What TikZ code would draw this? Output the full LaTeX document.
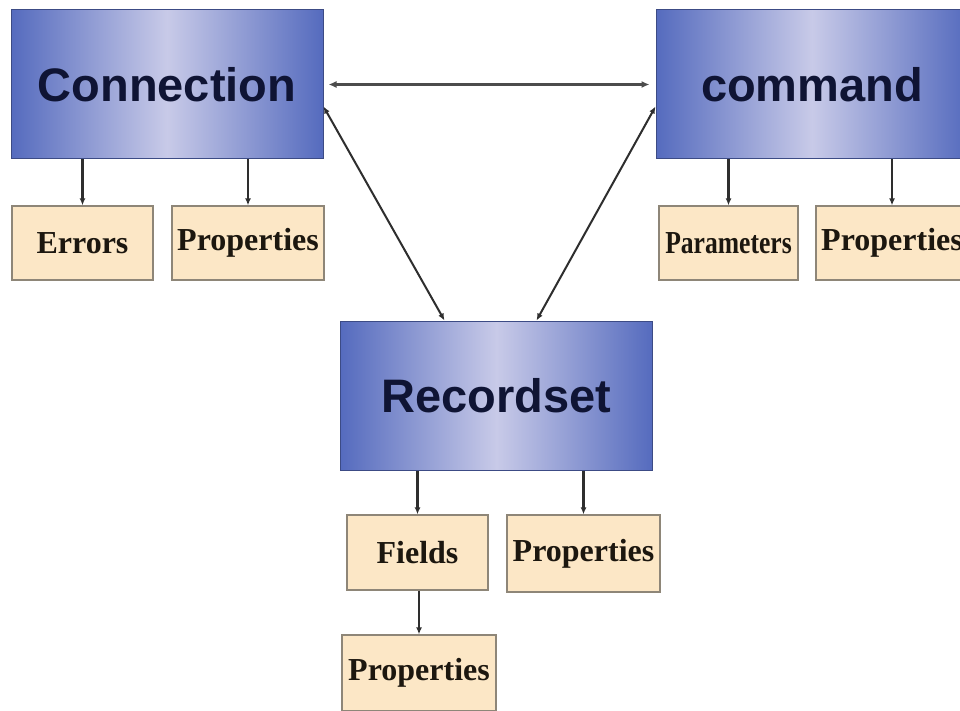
\documentclass[tikz,border=0pt]{standalone}
\usepackage{fontspec}
\setmainfont{Liberation Serif}
\newfontfamily\bigsans{Liberation Sans}
\usetikzlibrary{arrows.meta,calc}
\definecolor{boxblue}{HTML}{556BBE}
\definecolor{boxlight}{HTML}{C8CAE8}
\definecolor{peach}{HTML}{FCE7C6}
\definecolor{peachline}{HTML}{8E8678}
\definecolor{bigtext}{HTML}{0F1434}
\definecolor{smalltext}{HTML}{1C170F}
\definecolor{arrowgray}{HTML}{2E2E2E}
\tikzset{
  bigbox/.style={rectangle, draw=boxblue!70!black, line width=1pt, left color=boxblue, right color=boxblue, middle color=boxlight, minimum width=312pt, minimum height=149pt, inner sep=0pt, font=\bigsans\fontsize{47}{50}\selectfont\bfseries, text=bigtext},
  smallbox/.style={rectangle, draw=peachline, line width=1.3pt, fill=peach, minimum height=74pt, inner sep=0pt, font=\fontsize{32}{34}\selectfont\bfseries, text=smalltext},
  conn/.style={draw=arrowgray, line width=2.2pt, -{Latex[length=7pt,width=6pt]}},
  dconn/.style={draw=arrowgray, line width=2pt, {Latex[length=7pt,width=6pt]}-{Latex[length=7pt,width=6pt]}},
  hconn/.style={draw=black!70, line width=3pt, {Latex[length=8pt,width=7pt]}-{Latex[length=8pt,width=7pt]}}
}
\begin{document}
\begin{tikzpicture}[x=1pt,y=-1pt]
\useasboundingbox[fill=white] (0,0) rectangle (960,711);
% big boxes
\node[bigbox] (connection) at (167,84.5) {Connection};
\node[bigbox] (command) at (812,84.5) {command};
\node[bigbox] (recordset) at (496.5,395.5) {Recordset};
% small boxes
\node[smallbox, minimum width=141pt] (errors) at (82.5,243) {Errors};
\node[smallbox, minimum width=152pt] (cprops) at (248,243) {Properties};
\node[smallbox, minimum width=139pt] (params) at (728.5,243) {\scalebox{0.8}[1]{Parameters}};
\node[smallbox, minimum width=152pt] (mprops) at (892,243) {Properties};
\node[smallbox, minimum width=141pt, minimum height=75pt] (fields) at (417.5,552.5) {Fields};
\node[smallbox, minimum width=153pt, minimum height=77pt] (rprops) at (583.5,553.5) {Properties};
\node[smallbox, minimum width=154pt, minimum height=76pt] (fprops) at (419,673) {Properties};
% connectors
\draw[conn] (connection.south -| errors.north) -- (errors.north);
\draw[conn] (connection.south -| cprops.north) -- (cprops.north);
\draw[conn] (command.south -| params.north) -- (params.north);
\draw[conn] (command.south -| mprops.north) -- (mprops.north);
\draw[conn] (recordset.south -| fields.north) -- (fields.north);
\draw[conn] (recordset.south -| rprops.north) -- (rprops.north);
\draw[conn] (fields.south -| fprops.north) -- (fprops.north);
% triangle of links
\coordinate (cE) at ($(connection.east)+(5,0)$);
\coordinate (mW) at ($(command.west)+(-6,0)$);
\draw[hconn] (cE) -- (mW);
\coordinate (cD) at ($(connection.east)+(0,22)$);
\coordinate (mD) at ($(command.west)+(0,22)$);
\coordinate (rL) at ($(recordset.north)+(-52,0)$);
\coordinate (rR) at ($(recordset.north)+(40,0)$);
\draw[dconn] (cD) -- (rL);
\draw[dconn] (mD) -- (rR);
\end{tikzpicture}
\end{document}
